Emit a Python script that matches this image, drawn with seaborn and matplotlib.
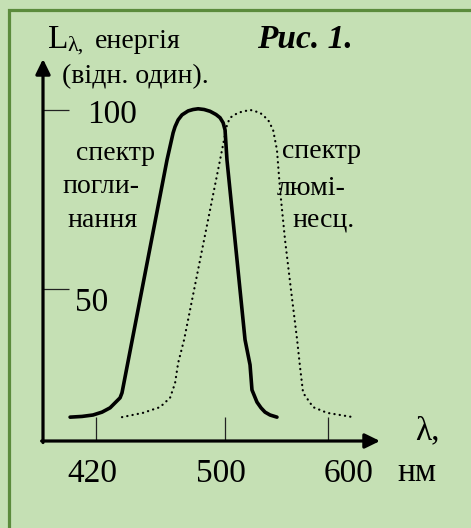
import matplotlib
matplotlib.use("Agg")
import matplotlib.pyplot as plt
import pandas as pd
import seaborn as sns
from matplotlib.patches import Rectangle

# ---------------- data ----------------
absorption_wl = [403.9, 411.3, 418.1, 423.7, 428.7, 434.9, 436.1, 464.0, 467.8, 469.0,
                 470.9, 473.3, 477.1, 480.2, 483.3, 487.0, 490.7, 494.4, 496.9, 498.8,
                 500.0, 501.2, 512.4, 515.5, 516.7, 519.8, 522.3, 524.8, 527.9, 532.2]
absorption_val = [14.2, 14.4, 14.8, 15.6, 16.8, 19.6, 21.0, 86.0, 93.6, 95.3,
                  97.2, 98.6, 99.7, 100.1, 100.3, 100.1, 99.6, 98.7, 97.8, 96.4,
                  94.4, 86.0, 35.8, 28.8, 21.8, 18.4, 16.8, 15.6, 14.8, 14.2]

luminescence_wl = [436.1, 449.1, 459.7, 465.9, 469.0, 470.9, 474.6, 496.9, 501.2, 503.1,
                   508.1, 515.5, 521.7, 526.7, 529.8, 532.2, 534.1, 537.2, 540.9, 544.7,
                   546.5, 548.4, 554.6, 563.3, 579.4]
luminescence_val = [14.2, 15.4, 17.0, 19.6, 23.7, 29.3, 35.8, 86.0, 95.8, 97.8,
                    99.2, 100.0, 99.2, 97.2, 94.4, 88.8, 77.7, 63.7, 49.7, 35.8,
                    28.2, 21.0, 17.0, 15.4, 14.2]

x_tick_pos = [420, 500, 564]
x_tick_labels = ["420", "500", "600"]
y_tick_pos = [50, 100]
y_tick_labels = ["50", "100"]

title_text = "Рис. 1."
y_label_main = "L"
y_label_sub = "λ,"
y_label_rest = "енергія"
y_label_units = "(відн. один)."
x_label = "λ,"
x_units = "нм"
abs_label = ["спектр", "погли-", "нання"]
lum_label = ["спектр", "люмі-", "несц."]

# ---------------- style ----------------
W, H = 471, 528
BG = "#c5e0b4"
sns.set_theme(style="white")
plt.rcParams["font.family"] = ["Liberation Serif", "DejaVu Serif"]

fig = plt.figure(figsize=(W / 100, H / 100), dpi=100, facecolor=BG)

# frame around the slide
fig.patches.append(Rectangle((9 / W, -0.1), 1.2, (1 - 10 / H) + 0.1,
                             transform=fig.transFigure, fill=False,
                             edgecolor="#5b8b3c", lw=2.3, zorder=0))

ax_l, ax_r, ax_t, ax_b = 43, 380, 59, 441
ax = fig.add_axes([ax_l / W, 1 - ax_b / H, (ax_r - ax_l) / W, (ax_b - ax_t) / H])
ax.set_facecolor("none")
ax.set_xlim(387.1, 596.1)
ax.set_ylim(7.54, 114.2)
for s in ax.spines.values():
    s.set_visible(False)

df_abs = pd.DataFrame({"wl": absorption_wl, "val": absorption_val})
df_lum = pd.DataFrame({"wl": luminescence_wl, "val": luminescence_val})

sns.lineplot(data=df_lum, x="wl", y="val", sort=False, estimator=None, ax=ax,
             color="black", lw=1.6, linestyle=(0, (0.1, 2.3)),
             dash_capstyle="round")
sns.lineplot(data=df_abs, x="wl", y="val", sort=False, estimator=None, ax=ax,
             color="black", lw=2.6, solid_capstyle="round", solid_joinstyle="round")

ax.set_xlabel("")
ax.set_ylabel("")
ax.set_xticks(x_tick_pos)
ax.set_yticks(y_tick_pos)
ax.tick_params(axis="x", direction="in", length=17.3, width=0.9, color="#222222",
               labelbottom=False, bottom=True)
ax.tick_params(axis="y", direction="in", length=18.7, width=0.9, color="#222222",
               labelleft=False, left=True)

# axes with arrow heads
arrow = dict(arrowstyle="-|>,head_length=0.45,head_width=0.22", lw=2.3,
             color="black", shrinkA=0, shrinkB=0, mutation_scale=20)
ax.annotate("", xy=(0, 1), xytext=(0, -0.004), xycoords="axes fraction",
            arrowprops=arrow)
ax.annotate("", xy=(1, 0), xytext=(-0.004, 0), xycoords="axes fraction",
            arrowprops=arrow)


def ptext(x, y, s, size, **kw):
    fig.text(x / W, 1 - y / H, s, fontsize=size, va="baseline", color="black", **kw)


# axis titles
ptext(48, 48, y_label_main, 24)
ptext(67, 51, y_label_sub, 16)
ptext(95, 48, y_label_rest, 20)
ptext(62, 83, y_label_units, 20)
ptext(257, 48, title_text, 24, fontweight="bold", fontstyle="italic")

# y tick labels
ptext(87, 123, y_tick_labels[1], 24)
ptext(75, 311, y_tick_labels[0], 24)

# x tick labels
for cx, lab in zip([92.5, 221, 349], x_tick_labels):
    ptext(cx, 482, lab, 24, ha="center")
ptext(397, 481, x_units, 24)
ptext(415, 439, x_label, 24)

# curve labels
for (x, y), s in zip([(76, 160), (62, 193), (67, 227)], abs_label):
    ptext(x, y, s, 20)
for (x, y), s in zip([(282, 158), (277, 195), (292, 227)], lum_label):
    ptext(x, y, s, 20)

fig.savefig("out.png", dpi=100, facecolor=BG)
